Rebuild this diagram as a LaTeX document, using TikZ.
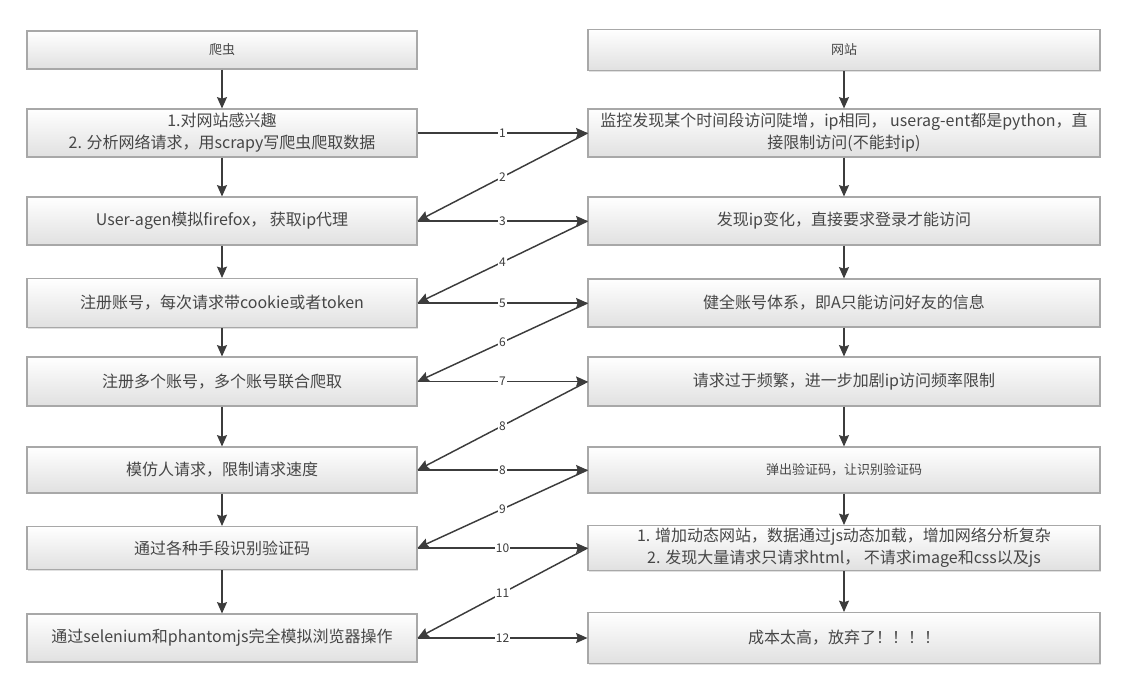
\documentclass[tikz,border=0pt]{standalone}
\usepackage{fontspec}
\setmainfont{Noto Sans CJK SC}
\usetikzlibrary{arrows.meta,shadows}
\definecolor{txtgray}{HTML}{464646}
\definecolor{linegray}{HTML}{3C3C3C}
\definecolor{boxedge}{HTML}{A8A8A8}
\begin{document}
\begin{tikzpicture}[x=0.75pt,y=-0.75pt,
    box/.style={draw=boxedge,line width=0.8pt,top color=white,bottom color=black!12,
      drop shadow={shadow xshift=1.1pt,shadow yshift=-1.1pt,fill=black,opacity=.12},
      text=txtgray,align=center,inner xsep=2pt,inner ysep=0pt,
      font=\fontsize{12pt}{16.5pt}\selectfont},
    cbox/.style={box,minimum width=292.5pt},
    wbox/.style={box,minimum width=384pt},
    small/.style={font=\fontsize{9.75pt}{12pt}\selectfont},
    arr/.style={draw=linegray,line width=1.1pt,-{Stealth[length=8.5pt,width=7.5pt,inset=1.2pt]}},
    num/.style={fill=white,inner sep=0.6pt,text=linegray,font=\fontsize{9pt}{10pt}\selectfont}]
    \useasboundingbox (0,0) rectangle (1131,672);
    \node[cbox,small,minimum height=28.5pt] (c0) at (222,50) {爬虫};
    \node[cbox,minimum height=36pt] (c1) at (222,133) {1.对网站感兴趣\\2. 分析网络请求，用scrapy写爬虫爬取数据};
    \node[cbox,minimum height=36pt] (c2) at (222,221) {User-agen模拟firefox， 获取ip代理};
    \node[cbox,minimum height=36.75pt] (c3) at (222,303) {注册账号，每次请求带cookie或者token};
    \node[cbox,minimum height=36.75pt] (c4) at (222,381.5) {注册多个账号，多个账号联合爬取};
    \node[cbox,minimum height=34.5pt] (c5) at (222,470) {模仿人请求，限制请求速度};
    \node[cbox,minimum height=32.25pt] (c6) at (222,548) {通过各种手段识别验证码};
    \node[cbox,minimum height=36pt] (c7) at (222,638) {通过selenium和phantomjs完全模拟浏览器操作};
    \node[wbox,small,minimum height=30.75pt] (s0) at (844,50) {网站};
    \node[wbox,minimum height=36pt] (s1) at (844,133) {监控发现某个时间段访问陡增，ip相同， userag-ent都是python，直\\接限制访问(不能封ip)};
    \node[wbox,minimum height=36pt] (s2) at (844,221) {发现ip变化，直接要求登录才能访问};
    \node[wbox,minimum height=36pt] (s3) at (844,303) {健全账号体系，即A只能访问好友的信息};
    \node[wbox,minimum height=36.75pt] (s4) at (844,381.5) {请求过于频繁，进一步加剧ip访问频率限制};
    \node[wbox,small,minimum height=34.5pt] (s5) at (844,470) {弹出验证码，让识别验证码};
    \node[wbox,minimum height=33.75pt] (s6) at (844,548) {1. 增加动态网站，数据通过js动态加载，增加网络分析复杂\\2. 发现大量请求只请求html， 不请求image和css以及js};
    \node[wbox,minimum height=38.25pt] (s7) at (844,638) {成本太高，放弃了！！！！};
    \foreach \i [count=\j from 1] in {0,...,6}
    \draw[arr] (c\i) -- (c\j);
    \foreach \i [count=\j from 1] in {0,...,6}
    \draw[arr] (s\i) -- (s\j);
    \foreach \i/\n in {1/1,2/3,3/5,4/7,5/8,6/10,7/12}
    \draw[arr] (c\i.east) -- node[num] {\n} (s\i.west);
    \foreach \i/\j/\n in {1/2/2,2/3/4,3/4/6,4/5/8,5/6/9,6/7/11}
    \draw[arr] (s\i.west) -- node[num] {\n} (c\j.east);
\end{tikzpicture}
\end{document}
